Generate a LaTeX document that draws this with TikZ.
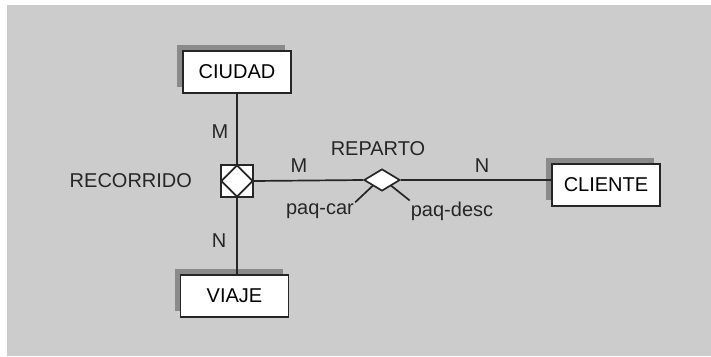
\documentclass[tikz,border=0pt]{standalone}
\usepackage{fontspec}
\setmainfont{Liberation Sans}
\usetikzlibrary{positioning,shapes.geometric,shadows}

\definecolor{fondo}{HTML}{CCCCCC}
\definecolor{sombra}{HTML}{8A8A8A}

\begin{document}
\begin{tikzpicture}[x=1pt,y=-1pt,font=\fontsize{20}{23}\selectfont,
  ent/.style={rectangle,draw=black!85,fill=white,line width=1.7pt,minimum width=108pt,minimum height=42pt,inner sep=0pt,
    drop shadow={shadow xshift=-6pt,shadow yshift=6pt,fill=sombra,opacity=1}},
  rel/.style={diamond,draw=black!85,fill=white,line width=1.7pt,inner sep=0pt},
  lab/.style={inner sep=1pt,text=black!85},
  ln/.style={line width=1.7pt,black!85}]
\useasboundingbox (0,0) rectangle (711,356);
\fill[fondo] (7,5) rectangle (711,356);
% entidades
\node[ent](ciudad) at (237,72){CIUDAD};
\node[ent](viaje) at (234.5,296){VIAJE};
\node[ent](cliente) at (606,185){CLIENTE};
% relaciones
\node[rectangle,draw=black!85,fill=white,line width=1.7pt,minimum size=32pt,inner sep=0pt](sq) at (237,181){};
\node[rel,minimum width=32pt,minimum height=32pt](rec) at (sq){};
\node[rel,minimum width=36pt,minimum height=22pt](rep) at (382,180){};
\node[lab,left=27pt of sq](recl){RECORRIDO};
\node[lab](repl) at (378,149){REPARTO};
\node[lab](pc) at (320,211){paq-car};
\node[lab](pd) at (452,211){paq-desc};
% cardinalidades
\node[lab](m1) at (220,132){M};
\node[lab](n1) at (219,241){N};
\node[lab](m2) at (299,166){M};
\node[lab](n2) at (482,166){N};
% conexiones
\draw[ln](ciudad)--(sq);
\draw[ln](sq.south)--(sq.south |- viaje.north);
\draw[ln](sq.east)--(rep.west);
\draw[ln](rep.east)--(rep.east -| cliente.west);
\draw[ln](rep.south west)--(pc.north east);
\draw[ln](rep.south east)--(pd.north west);
\end{tikzpicture}
\end{document}
